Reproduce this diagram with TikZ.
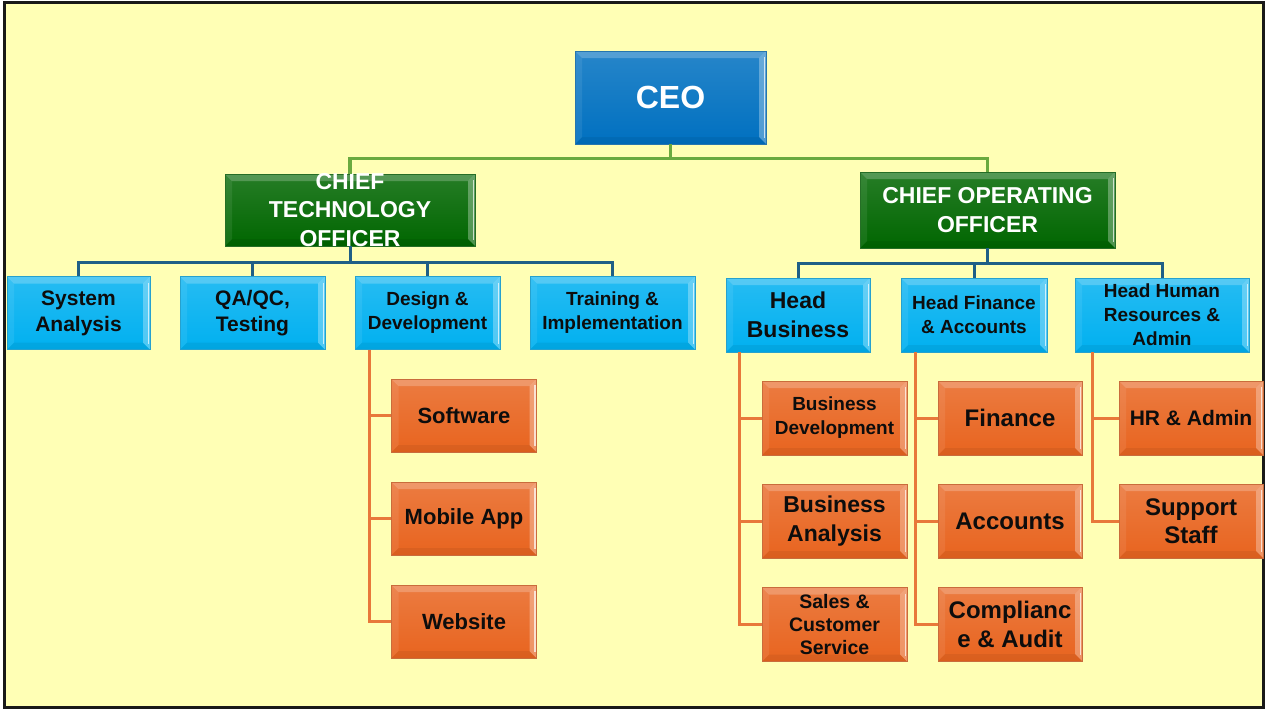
\documentclass[tikz,border=0pt]{standalone}
\usepackage{fontspec}
\setmainfont{Liberation Sans}
\definecolor{pagebg}{HTML}{FFFFB5}
\definecolor{ceoblue}{HTML}{0070C0}
\definecolor{chiefgreen}{HTML}{006600}
\definecolor{headblue}{HTML}{00B0F0}
\definecolor{unitorange}{HTML}{E8641F}
\definecolor{linegreen}{HTML}{6AAA3F}
\definecolor{lineblue}{HTML}{1F5F86}
\definecolor{lineorange}{HTML}{E8783A}
\newcommand{\setsize}[2]{\fontsize{#1}{#2}\selectfont\bfseries}

\begin{document}
\begin{tikzpicture}[x=1pt, y=-1pt,
    bevel/.style={top color=#1!85!white, bottom color=#1, draw=#1!70!gray, line width=0.6pt,
        path picture={
            \coordinate (bnw) at (path picture bounding box.north west);
            \coordinate (bne) at (path picture bounding box.north east);
            \coordinate (bse) at (path picture bounding box.south east);
            \coordinate (bsw) at (path picture bounding box.south west);
            \fill[white, opacity=.22] (bnw) -- (bne) -- ([shift={(-7,7)}]bne) -- ([shift={(7,7)}]bnw) -- cycle;
            \fill[white, opacity=.08] (bnw) -- (bsw) -- ([shift={(7,-7)}]bsw) -- ([shift={(7,7)}]bnw) -- cycle;
            \fill[black, opacity=.06] (bsw) -- (bse) -- ([shift={(-7,-7)}]bse) -- ([shift={(7,-7)}]bsw) -- cycle;
            \fill[white, opacity=.3] (bne) -- (bse) -- ([shift={(-7,-7)}]bse) -- ([shift={(-7,7)}]bne) -- cycle;
            \draw[white, opacity=.7, line width=1.5pt] ([shift={(-1.5,6)}]bne) -- ([shift={(-1.5,-6)}]bse);
        }},
    chart/.style={bevel=#1, align=center, inner xsep=2pt, inner ysep=2pt},
    headbox/.style={chart=headblue, text=black!95, minimum width=145pt, minimum height=73pt},
    unitbox/.style={chart=unitorange, text=black!95, minimum width=145pt, minimum height=74pt},
    greenlink/.style={draw=linegreen, line width=3.5pt},
    bluelink/.style={draw=lineblue, line width=3pt},
    orangelink/.style={draw=lineorange, line width=3pt}]

    \useasboundingbox (0,0) rectangle (1265,710);
    \draw[line width=2.5pt, draw=black!90, fill=pagebg] (4.5,2.5) rectangle (1263.5,707.5);

    \node[chart=ceoblue, text=white, minimum width=191pt, minimum height=93pt, font={\setsize{32}{38}}] (ceo) at (670.5,97.5) {CEO};
    \node[chart=chiefgreen, text=white, minimum width=250pt, minimum height=72pt, inner ysep=-6pt, font={\setsize{23}{28.5}}] (cto) at (350,210) {CHIEF\\TECHNOLOGY\\OFFICER};
    \node[chart=chiefgreen, text=white, minimum width=255pt, minimum height=76pt, font={\setsize{23}{29}}] (coo) at (987.5,210) {CHIEF OPERATING\\OFFICER};

    \node[headbox, minimum width=143pt, font={\setsize{21}{26}}] (sa) at (78.5,313) {System\\Analysis};
    \node[headbox, font={\setsize{21}{26}}] (qa) at (252.5,313) {QA/QC,\\Testing};
    \node[headbox, font={\setsize{19}{24}}] (dd) at (427.5,313) {Design \&\\Development};
    \node[headbox, minimum width=165pt, font={\setsize{19}{24}}] (ti) at (612.5,313) {Training \&\\Implementation};

    \node[headbox, minimum width=144pt, minimum height=74pt, font={\setsize{23}{29}}] (hb) at (798,315) {Head\\Business};
    \node[headbox, minimum width=146pt, minimum height=74pt, font={\setsize{19}{24}}] (hf) at (974,315) {Head Finance\\\& Accounts};
    \node[headbox, minimum width=174pt, minimum height=74pt, font={\setsize{19}{24}}] (hr) at (1162,315) {Head Human\\Resources \&\\Admin};

    \node[unitbox, minimum height=73pt, font={\setsize{22}{26}}] (sw) at (464,415.5) {Software};
    \node[unitbox, minimum height=73pt, font={\setsize{22}{26}}] (ma) at (464,518.5) {Mobile App};
    \node[unitbox, minimum height=73pt, font={\setsize{22}{26}}] (web) at (464,621.5) {Website};

    \node[unitbox, font={\setsize{19}{24}}] (bd) at (834.5,418) {Business\\Development};
    \node[unitbox, font={\setsize{23}{29}}] (ba) at (834.5,521) {Business\\Analysis};
    \node[unitbox, font={\setsize{19.5}{23}}] (sc) at (834.5,624.5) {Sales \&\\Customer\\Service};

    \node[unitbox, minimum width=144pt, font={\setsize{24}{29}}] (fin) at (1010,418) {Finance};
    \node[unitbox, minimum width=144pt, font={\setsize{24}{29}}] (acc) at (1010,521) {Accounts};
    \node[unitbox, minimum width=144pt, font={\setsize{24}{29}}] (ca) at (1010,624) {Complianc\\e \& Audit};

    \node[unitbox, minimum width=144pt, font={\setsize{21}{26}}] (hra) at (1191,418) {HR \& Admin};
    \node[unitbox, minimum width=144pt, font={\setsize{24}{28}}] (ss) at (1191,521) {Support\\Staff};

    \draw[greenlink] (ceo.south) -- ++(0,14) -| (cto.north);
    \draw[greenlink] (ceo.south) -- ++(0,14) -| (coo.north);
    \foreach \h in {sa,qa,dd,ti}
        \draw[bluelink] (cto.south) -- ++(0,16) -| (\h.north);
    \foreach \h in {hb,hf,hr}
        \draw[bluelink] (coo.south) -- ++(0,15) -| (\h.north);

    \foreach \u in {sw,ma,web}
        \draw[orangelink] ([xshift=15pt]dd.south west) |- (\u.west);
    \foreach \u in {bd,ba,sc}
        \draw[orangelink] ([xshift=14pt]hb.south west) |- (\u.west);
    \foreach \u in {fin,acc,ca}
        \draw[orangelink] ([xshift=15pt]hf.south west) |- (\u.west);
    \foreach \u in {hra,ss}
        \draw[orangelink] ([xshift=18pt]hr.south west) |- (\u.west);
\end{tikzpicture}
\end{document}
